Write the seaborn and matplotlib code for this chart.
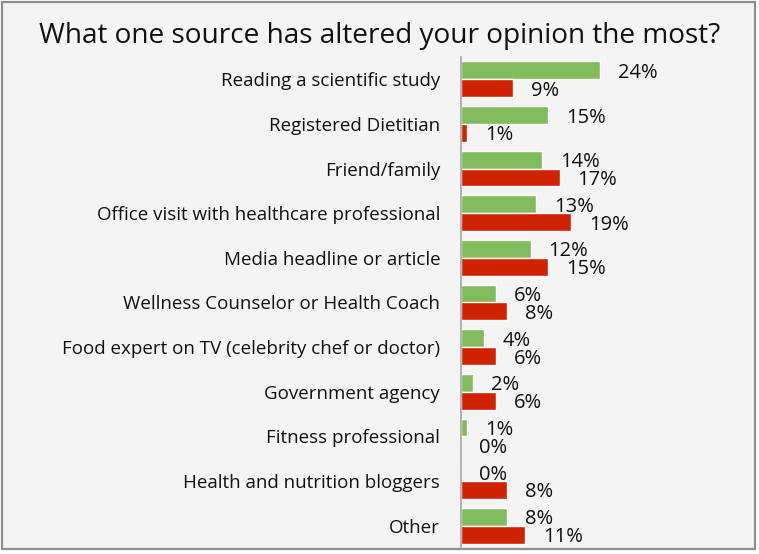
import matplotlib
matplotlib.use("Agg")
import matplotlib.pyplot as plt
from matplotlib.patches import Rectangle
import seaborn as sns
import pandas as pd

categories = [
    "Reading a scientific study",
    "Registered Dietitian",
    "Friend/family",
    "Office visit with healthcare professional",
    "Media headline or article",
    "Wellness Counselor or Health Coach",
    "Food expert on TV (celebrity chef or doctor)",
    "Government agency",
    "Fitness professional",
    "Health and nutrition bloggers",
    "Other",
]
series_names = ["first", "second"]
first_values = [24, 15, 14, 13, 12, 6, 4, 2, 1, 0, 8]
second_values = [9, 1, 17, 19, 15, 8, 6, 6, 0, 8, 11]

df = pd.DataFrame({
    "source": categories * 2,
    "group": [series_names[0]] * len(categories) + [series_names[1]] * len(categories),
    "pct": first_values + second_values,
})

sns.set_theme(style="white")
plt.rcParams["font.family"] = ["Open Sans", "DejaVu Sans"]

W, H = 759, 554
fig = plt.figure(figsize=(W / 100, H / 100), dpi=100, facecolor="white")

# outer chart frame, kept behind the axes
frame = Rectangle((2 / W, (H - 549) / H), 753 / W, 547 / H,
                  transform=fig.transFigure, facecolor="#f4f4f4",
                  edgecolor="#8e8e8e", linewidth=1.6, zorder=-5)
fig.add_artist(frame)

ax = fig.add_axes([461 / W, (H - 548) / H, 232 / W, 491 / H])
ax.set_facecolor("none")
ax.set_zorder(1)

sns.barplot(data=df, y="source", x="pct", hue="group", orient="h",
            order=categories, hue_order=series_names,
            palette=["#82bb5c", "#d12200"], width=0.8, saturation=1,
            legend=False, ax=ax)

ax.set_xlim(0, 40)
ax.set_xlabel("")
ax.set_ylabel("")
ax.set_xticks([])
for side in ["top", "right", "bottom"]:
    ax.spines[side].set_visible(False)
ax.spines["left"].set_color("#a6a6a6")
ax.spines["left"].set_linewidth(1.2)
ax.tick_params(axis="y", length=0, pad=15, labelsize=13.5, labelcolor="#111111")

# value labels sit just right of each bar end, nudged slightly downward
for cont, vals in zip(ax.containers, [first_values, second_values]):
    texts = ax.bar_label(cont, labels=[f"{v}%" for v in vals], padding=13.5,
                         fontsize=14.5, color="#111111", clip_on=False)
    for t in texts:
        t.xyann = (13.0, -1.8)

fig.text(380 / W, 1 - 36 / H, "What one source has altered your opinion the most?",
         ha="center", va="center", fontsize=20.2, color="#111111")

fig.savefig("out.png", dpi=100, facecolor="white")
